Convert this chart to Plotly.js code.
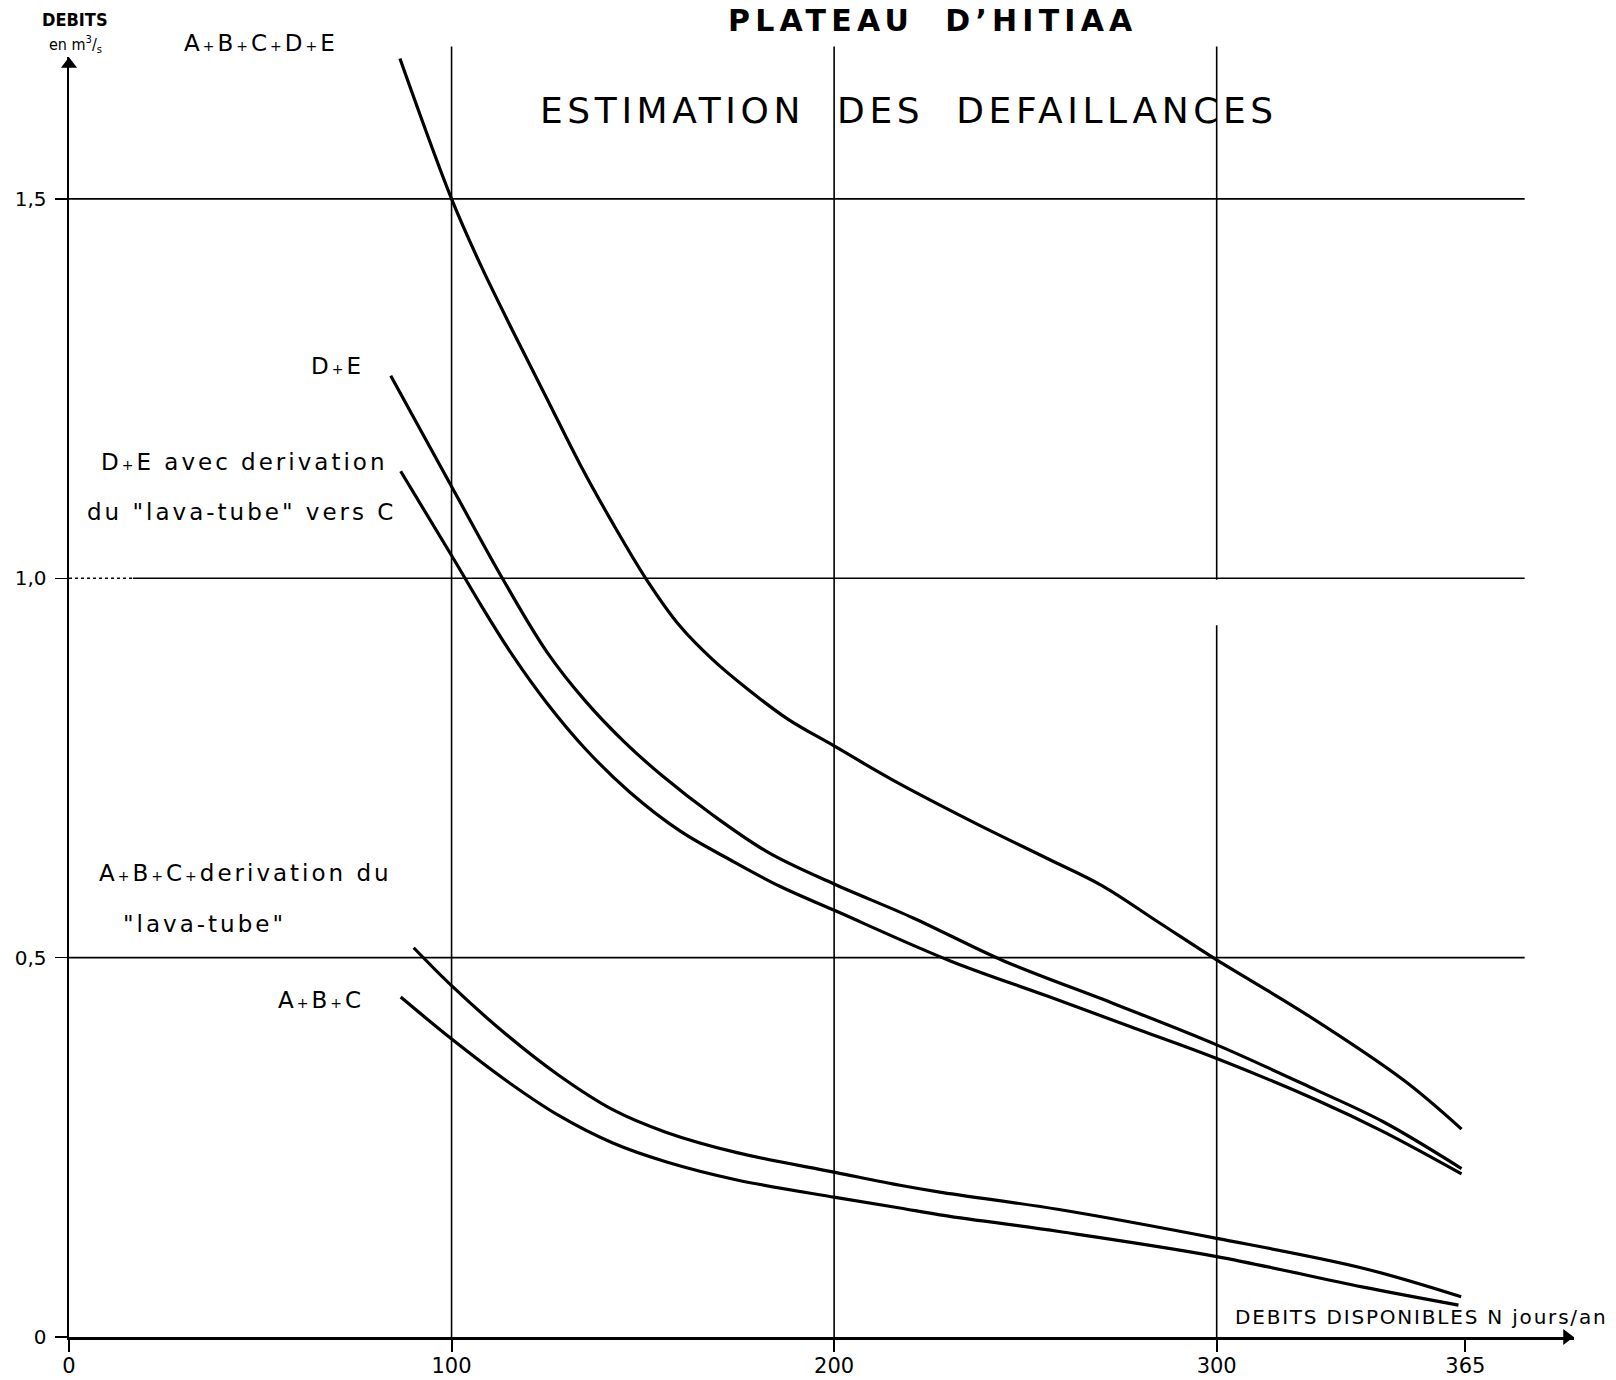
<!DOCTYPE html>
<html>
<head>
<meta charset="utf-8">
<script src="https://cdn.plot.ly/plotly-3.0.1.min.js"></script>
<style>
html,body{margin:0;padding:0;background:#fff;}
#chart{width:1616px;height:1380px;}
</style>
</head>
<body>
<div id="chart"></div>
<script>
// ---- data (N jours/an, débits m3/s) ----
const daysABCDE = [86.5, 100, 107.4, 116.1, 124.9, 133.6, 142.3, 151, 159.7, 168.4, 177.1, 188, 200, 215, 237, 256, 270, 285, 300, 323.5, 349, 364];
const flowABCDE = [1.685, 1.5, 1.415, 1.325, 1.237, 1.150, 1.071, 0.998, 0.937, 0.892, 0.855, 0.814, 0.779, 0.735, 0.677, 0.630, 0.595, 0.546, 0.497, 0.425, 0.338, 0.274];

const daysDE = [84.1, 100, 113.5, 124.9, 135, 145, 155, 168, 183, 200, 220.8, 244.2, 273.3, 300, 325.8, 343.4, 364];
const flowDE = [1.267, 1.121, 0.998, 0.903, 0.838, 0.785, 0.740, 0.689, 0.638, 0.597, 0.552, 0.496, 0.439, 0.385, 0.326, 0.284, 0.222];

const daysDEderiv = [86.7, 100, 108, 116, 125, 135, 146.6, 159.7, 172.8, 185.8, 200.2, 230.2, 255.9, 279.1, 300, 325.8, 343.4, 364];
const flowDEderiv = [1.141, 1.030, 0.962, 0.898, 0.835, 0.775, 0.718, 0.667, 0.629, 0.594, 0.562, 0.496, 0.449, 0.406, 0.367, 0.313, 0.271, 0.215];

const daysABCderiv = [90.1, 100.2, 114, 128, 142, 156, 174.6, 200.3, 217.2, 227.6, 258.8, 300, 338, 363.9];
const flowABCderiv = [0.513, 0.462, 0.400, 0.345, 0.300, 0.270, 0.243, 0.217, 0.200, 0.191, 0.168, 0.130, 0.091, 0.053];

const daysABC = [86.7, 100.2, 114, 128, 142, 156, 174.6, 200.3, 217.2, 227.6, 258.8, 300, 338, 363.2];
const flowABC = [0.448, 0.392, 0.339, 0.292, 0.256, 0.231, 0.207, 0.184, 0.170, 0.161, 0.139, 0.106, 0.066, 0.042];

const xTickVals = [0, 100, 200, 300, 365];
const xTickText = ['0', '100', '200', '300', '365'];
const yTickVals = [0, 0.5, 1.0, 1.5];
const yTickText = ['0', '0,5', '1,0', '1,5'];
const xGrid = [100, 200, 300];
const yGrid = [0.5, 1.0, 1.5];

const titleText = 'PLATEAU  D’HITIAA';
const subtitleText = 'ESTIMATION  DES  DEFAILLANCES';
const yTitleText = ['DEBITS', 'en m<sup>3</sup>/<sub>s</sub>'];
const xTitleText = 'DEBITS DISPONIBLES N jours/an';
const P = '<span style="font-size:14px">+</span>';
const curveLabels = [
  {text: 'A' + P + 'B' + P + 'C' + P + 'D' + P + 'E', x: 50.3, y: 1.706, anchor: 'center'},
  {text: 'D' + P + 'E', x: 77.6, y: 1.280, anchor: 'right'},
  {text: 'D' + P + 'E avec derivation', x: 83.6, y: 1.153, anchor: 'right'},
  {text: 'du "lava-tube" vers C', x: 85.9, y: 1.087, anchor: 'right'},
  {text: 'A' + P + 'B' + P + 'C' + P + 'derivation du', x: 85.0, y: 0.6116, anchor: 'right'},
  {text: '"lava-tube"', x: 13.6, y: 0.5444, anchor: 'left'},
  {text: 'A' + P + 'B' + P + 'C', x: 77.6, y: 0.444, anchor: 'right'}
];

// ---- traces ----
const FONT = 'DejaVu Sans, Liberation Sans, sans-serif';
const XMAX = 393.4, YMAX = 1.687, HGRID_END = 380.5;
const py = v => v / YMAX;   // value -> paper fraction on the y axis

const lineStyle = {color: '#000', width: 3.2, shape: 'spline', smoothing: 1};
const series = [
  [daysABCDE, flowABCDE], [daysDE, flowDE], [daysDEderiv, flowDEderiv],
  [daysABCderiv, flowABCderiv], [daysABC, flowABC]
];
const traces = series.map(s => ({x: s[0], y: s[1], type: 'scatter', mode: 'lines', line: lineStyle, hoverinfo: 'skip'}));
// axis arrow heads (tips at the axis ends)
traces.push({x: [XMAX - 1.9], y: [0], type: 'scatter', mode: 'markers', cliponaxis: false, hoverinfo: 'skip',
  marker: {symbol: 'triangle-right', size: 14, color: '#000', line: {width: 0}}});
traces.push({x: [0], y: [YMAX - 0.0095], type: 'scatter', mode: 'markers', cliponaxis: false, hoverinfo: 'skip',
  marker: {symbol: 'triangle-up', size: 14, color: '#000', line: {width: 0}}});

const shapes = [];
yGrid.forEach(v => {
  if (v === 1.0) {
    shapes.push({type: 'line', xref: 'x', yref: 'y', x0: 0, x1: 16.7, y0: v, y1: v, line: {color: '#000', width: 1.5, dash: 'dot'}});
    shapes.push({type: 'line', xref: 'x', yref: 'y', x0: 16.7, x1: HGRID_END, y0: v, y1: v, line: {color: '#000', width: 1.6}});
  } else {
    shapes.push({type: 'line', xref: 'x', yref: 'y', x0: 0, x1: HGRID_END, y0: v, y1: v, line: {color: '#000', width: 1.6}});
  }
});
xGrid.forEach(v => {
  if (v === 300) {
    shapes.push({type: 'line', xref: 'x', yref: 'paper', x0: v, x1: v, y0: 0, y1: py(0.938), line: {color: '#000', width: 1.6}});
    shapes.push({type: 'line', xref: 'x', yref: 'paper', x0: v, x1: v, y0: py(0.998), y1: py(1.701), line: {color: '#000', width: 1.6}});
  } else {
    shapes.push({type: 'line', xref: 'x', yref: 'paper', x0: v, x1: v, y0: 0, y1: py(1.701), line: {color: '#000', width: 1.6}});
  }
});

const ls = s => '<span style="letter-spacing:' + s + 'px">';
const annotations = [];
// titles
annotations.push({x: 225.8, y: py(1.735), xref: 'x', yref: 'paper', text: '<b>' + ls(5.2) + titleText + '</span></b>', showarrow: false, font: {family: FONT, size: 30, color: '#000'}, xanchor: 'center', yanchor: 'middle'});
annotations.push({x: 219.5, y: py(1.617), xref: 'x', yref: 'paper', text: ls(4.6) + subtitleText + '</span>', showarrow: false, font: {family: FONT, size: 36, color: '#000'}, xanchor: 'center', yanchor: 'middle'});
// axis titles
annotations.push({x: 1.6, y: py(1.737), xref: 'x', yref: 'paper', text: '<b>' + yTitleText[0] + '</b>', showarrow: false, font: {family: 'DejaVu Sans Condensed, DejaVu Sans, sans-serif', size: 18, color: '#000'}, xanchor: 'center', yanchor: 'middle'});
annotations.push({x: 1.6, y: py(1.703), xref: 'x', yref: 'paper', text: yTitleText[1], showarrow: false, font: {family: 'DejaVu Sans Condensed, DejaVu Sans, sans-serif', size: 16, color: '#000'}, xanchor: 'center', yanchor: 'middle'});
annotations.push({x: 304.2, y: py(0.0264), xref: 'x', yref: 'paper', text: ls(1.8) + xTitleText + '</span>', showarrow: false, font: {family: FONT, size: 20, color: '#000'}, xanchor: 'left', yanchor: 'middle'});
// curve labels
curveLabels.forEach(l => {
  annotations.push({x: l.x, y: py(l.y), xref: 'x', yref: 'paper', text: ls(3) + l.text + '</span>', showarrow: false, font: {family: FONT, size: 23, color: '#000'}, xanchor: l.anchor, yanchor: 'middle'});
});

const layout = {
  width: 1616, height: 1380,
  margin: {l: 69, r: 42, t: 57, b: 43, pad: 0},
  paper_bgcolor: '#fff', plot_bgcolor: '#fff',
  showlegend: false,
  xaxis: {
    range: [0, XMAX], showgrid: false, zeroline: false,
    showline: true, linecolor: '#000', linewidth: 2.5,
    ticks: 'outside', ticklen: 12, tickwidth: 2, tickcolor: '#000',
    tickmode: 'array', tickvals: xTickVals, ticktext: xTickText,
    tickfont: {family: FONT, size: 21, color: '#000'}, ticklabelstandoff: -4, fixedrange: true
  },
  yaxis: {
    range: [0, YMAX], showgrid: false, zeroline: false,
    showline: true, linecolor: '#000', linewidth: 2.5,
    ticks: 'outside', ticklen: 12, tickwidth: 1.5, tickcolor: '#000',
    tickmode: 'array', tickvals: yTickVals, ticktext: yTickText,
    tickfont: {family: FONT, size: 20, color: '#000'}, ticklabelstandoff: 4, fixedrange: true
  },
  shapes: shapes,
  annotations: annotations
};

Plotly.newPlot('chart', traces, layout, {displayModeBar: false, staticPlot: true});
</script>
</body>
</html>
